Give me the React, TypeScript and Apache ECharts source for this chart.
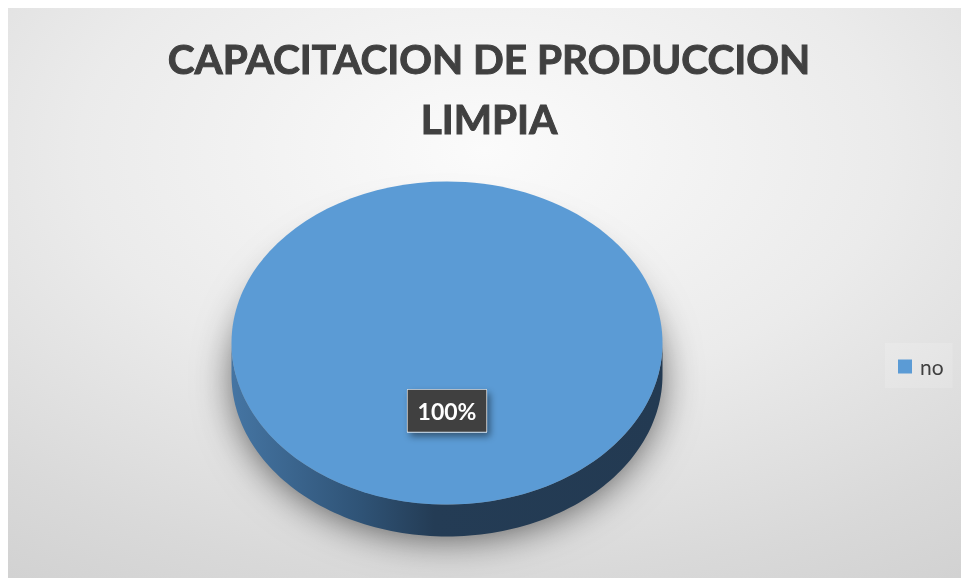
import React, { useEffect, useRef } from 'react';
import * as echarts from 'echarts';

const categories: string[] = ['no'];
const values: number[] = [100];
const titleLines: string[] = ['CAPACITACION DE PRODUCCION', 'LIMPIA'];
const sliceColors: string[] = ['#5b9bd5'];

const CX = 439;
const CY = 335;
const RX = 215.5;
const RY = 161.5;
const DEPTH = 32;

function pt(theta: number, dy = 0): number[] {
  return [CX + RX * Math.sin(theta), CY - RY * Math.cos(theta) + dy];
}

export default function App() {
  const ref = useRef<HTMLDivElement>(null);

  useEffect(() => {
    if (!ref.current) return;
    const chart = echarts.init(ref.current, null, { renderer: 'svg' });
    const total = values.reduce((a, b) => a + b, 0);

    const renderItem = (params: any, api: any) => {
      const i = params.dataIndex;
      const v = api.value(1);
      const before = values.slice(0, i).reduce((a, b) => a + b, 0);
      const a0 = (before / total) * Math.PI * 2;
      const a1 = ((before + v) / total) * Math.PI * 2;
      const full = v / total > 0.9999;
      const color = sliceColors[i % sliceColors.length];
      const children: any[] = [];

      // soft drop shadow (caster hidden beneath the pie)
      if (i === 0) {
        children.push({
          type: 'ellipse',
          shape: { cx: CX, cy: CY + DEPTH - 4, rx: RX - 4, ry: RY - 4 },
          style: {
            fill: '#888888',
            shadowBlur: 40,
            shadowColor: 'rgba(0,0,0,0.68)',
            shadowOffsetY: 8,
          },
        });
      }

      // side (front part only: theta in [PI/2, 3PI/2])
      const s0 = Math.max(a0, Math.PI / 2);
      const s1 = Math.min(a1, (Math.PI * 3) / 2);
      if (s1 > s0) {
        const n = 120;
        const topPts: number[][] = [];
        const botPts: number[][] = [];
        for (let k = 0; k <= n; k++) {
          const t = s0 + ((s1 - s0) * k) / n;
          topPts.push(pt(t));
          botPts.push(pt(t, DEPTH));
        }
        const poly = topPts.concat(botPts.reverse());
        children.push({
          type: 'polygon',
          shape: { points: poly },
          style: {
            fill: new echarts.graphic.LinearGradient(0, 0, 1, 0, [
              { offset: 0, color: '#4575a3' },
              { offset: 0.3, color: '#2f5376' },
              { offset: 0.47, color: '#243c55' },
              { offset: 1, color: '#233a52' },
            ]),
          },
        });
      }

      // top face
      if (full) {
        children.push({
          type: 'ellipse',
          shape: { cx: CX, cy: CY, rx: RX, ry: RY },
          style: { fill: color },
        });
      } else {
        const n = 180;
        const pts: number[][] = [[CX, CY]];
        for (let k = 0; k <= n; k++) {
          pts.push(pt(a0 + ((a1 - a0) * k) / n));
        }
        children.push({ type: 'polygon', shape: { points: pts }, style: { fill: color } });
      }

      // label
      let lx: number;
      let ly: number;
      if (full) {
        lx = CX;
        ly = CY + 0.42 * RY;
      } else {
        const m = (a0 + a1) / 2;
        lx = CX + 0.6 * RX * Math.sin(m);
        ly = CY - 0.6 * RY * Math.cos(m);
      }
      const pct = Math.round((v / total) * 100) + '%';
      children.push({
        type: 'text',
        x: lx,
        y: ly,
        style: {
          text: pct,
          fill: '#ffffff',
          fontFamily: 'Lato',
          fontWeight: 'bold',
          fontSize: 23,
          textBorderColor: '#ffffff',
          textBorderWidth: 0.6,
          align: 'center',
          verticalAlign: 'middle',
          backgroundColor: '#404040',
          padding: [10, 10, 9, 10],
          shadowBlur: 7,
          shadowOffsetX: 3,
          shadowOffsetY: 4,
          shadowColor: 'rgba(0,0,0,0.45)',
        },
      });

      return { type: 'group', children };
    };

    chart.setOption({
      animation: false,
      graphic: [
        {
          type: 'rect',
          z: -10,
          silent: true,
          shape: { x: 0, y: 0, width: 953, height: 570 },
          style: {
            fill: new echarts.graphic.RadialGradient(0.5, 0.25, 1.15, [
              { offset: 0, color: '#fbfbfb' },
              { offset: 0.37, color: '#ebebeb' },
              { offset: 0.65, color: '#d9d9d9' },
              { offset: 1, color: '#c6c6c6' },
            ]),
          },
        },
      ],
      title: {
        text: titleLines.join('\n'),
        left: 476,
        top: 15,
        textAlign: 'center',
        textStyle: {
          fontFamily: 'Lato',
          fontWeight: 'bold',
          fontSize: 40.5,
          lineHeight: 60,
          color: '#404040',
          textBorderColor: '#404040',
          textBorderWidth: 1,
        },
      },
      legend: {
        data: categories,
        orient: 'vertical',
        left: 877,
        top: 335,
        padding: [13, 9, 11, 13],
        backgroundColor: 'rgba(255,255,255,0.15)',
        icon: 'rect',
        itemWidth: 14,
        itemHeight: 14,
        itemGap: 8,
        textStyle: { fontFamily: 'Lato', fontSize: 21, color: '#404040', padding: [0, 0, 0, 3] },
      },
      series: categories.map((name, i) => ({
        type: 'custom',
        name,
        coordinateSystem: 'none',
        itemStyle: { color: sliceColors[i % sliceColors.length] },
        data: [[i, values[i]]],
        renderItem: (params: any, api: any) => renderItem({ ...params, dataIndex: i }, api),
      })),
    });

    return () => chart.dispose();
  }, []);

  return (
    <div
      ref={ref}
      style={{ position: 'fixed', left: 8, top: 8, width: 953, height: 570 }}
    />
  );
}
